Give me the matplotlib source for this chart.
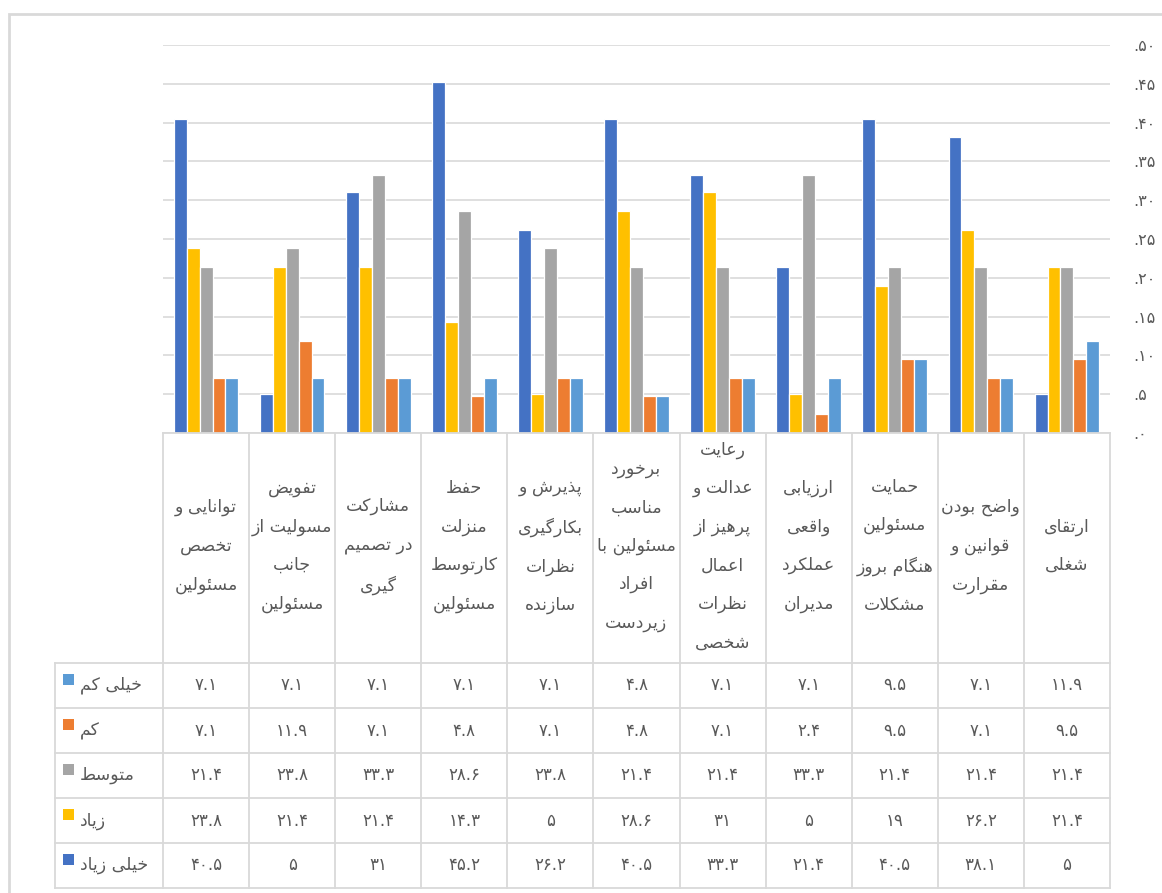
import unicodedata
import matplotlib
matplotlib.use("Agg")
import matplotlib.pyplot as plt
from matplotlib.patches import Rectangle

# ---------------- data ----------------
categories = [
    "توانایی و\nتخصص\nمسئولین",
    "تفویض\nمسولیت از\nجانب\nمسئولین",
    "مشارکت\nدر تصمیم\nگیری",
    "حفظ\nمنزلت\nکارتوسط\nمسئولین",
    "پذیرش و\nبکارگیری\nنظرات\nسازنده",
    "برخورد\nمناسب\nمسئولین با\nافراد\nزیردست",
    "رعایت\nعدالت و\nپرهیز از\nاعمال\nنظرات\nشخصی",
    "ارزیابی\nواقعی\nعملکرد\nمدیران",
    "حمایت\nمسئولین\nهنگام بروز\nمشکلات",
    "واضح بودن\nقوانین و\nمقرارت",
    "ارتقای\nشغلی",
]
series_names = ["خیلی زیاد", "زیاد", "متوسط", "کم", "خیلی کم"]
very_high = [40.5, 5, 31, 45.2, 26.2, 40.5, 33.3, 21.4, 40.5, 38.1, 5]
high = [23.8, 21.4, 21.4, 14.3, 5, 28.6, 31, 5, 19, 26.2, 21.4]
medium = [21.4, 23.8, 33.3, 28.6, 23.8, 21.4, 21.4, 33.3, 21.4, 21.4, 21.4]
low = [7.1, 11.9, 7.1, 4.8, 7.1, 4.8, 7.1, 2.4, 9.5, 7.1, 9.5]
very_low = [7.1, 7.1, 7.1, 7.1, 7.1, 4.8, 7.1, 7.1, 9.5, 7.1, 11.9]
series_values = [very_high, high, medium, low, very_low]
colors = ["#4472C4", "#FFC000", "#A5A5A5", "#ED7D31", "#5B9BD5"]
ytick_values = [0, 0.05, 0.10, 0.15, 0.20, 0.25, 0.30, 0.35, 0.40, 0.45, 0.50]
ytick_labels = [".۰", ".۵", ".۱۰", ".۱۵", ".۲۰", ".۲۵", ".۳۰", ".۳۵", ".۴۰", ".۴۵", ".۵۰"]

# ---------------- Persian shaping helpers ----------------
def _build_forms():
    forms = {}
    for cp in list(range(0xFB50, 0xFDFF)) + list(range(0xFE70, 0xFEFF)):
        ch = chr(cp)
        dec = unicodedata.decomposition(ch).split()
        if len(dec) == 2 and dec[0] in ("<isolated>", "<final>", "<initial>", "<medial>"):
            base = chr(int(dec[1], 16))
            forms.setdefault(base, {})[dec[0][1:-1]] = ch
    return forms

FORMS = _build_forms()
LAM_ALEF = {"ا": ("\uFEFB", "\uFEFC"), "آ": ("\uFEF5", "\uFEF6"),
            "أ": ("\uFEF7", "\uFEF8"), "إ": ("\uFEF9", "\uFEFA")}


def _jn(c):
    return c in FORMS and "initial" in FORMS[c] and "medial" in FORMS[c]


def _jp(c):
    return c in FORMS and "final" in FORMS[c]


def shape_line(s):
    out = []
    n = len(s)
    i = 0
    while i < n:
        c = s[i]
        cp = i > 0 and _jn(s[i - 1]) and _jp(c)
        if c == "ل" and i + 1 < n and s[i + 1] in LAM_ALEF:
            out.append(LAM_ALEF[s[i + 1]][1 if cp else 0])
            i += 2
            continue
        cn = i + 1 < n and _jn(c) and _jp(s[i + 1])
        if c in FORMS:
            f = FORMS[c]
            if cp and cn and "medial" in f:
                g = f["medial"]
            elif cp and "final" in f:
                g = f["final"]
            elif cn and "initial" in f:
                g = f["initial"]
            else:
                g = f.get("isolated", c)
        else:
            g = c
        out.append(g)
        i += 1
    return "".join(reversed(out))


def fa(s):
    return "\n".join(shape_line(line) for line in s.split("\n"))


PERSIAN_DIGITS = str.maketrans("0123456789", "۰۱۲۳۴۵۶۷۸۹")


def fa_num(v):
    s = ("%g" % v)
    return s.translate(PERSIAN_DIGITS)

# ---------------- figure ----------------
plt.rcParams["font.family"] = ["DejaVu Sans"]
W, H = 1162, 893
fig = plt.figure(figsize=(W / 100, H / 100), dpi=100)
fig.patch.set_facecolor("white")


def rect(x0, y0, x1, y1):
    return [x0 / W, 1 - y1 / H, (x1 - x0) / W, (y1 - y0) / H]

TEXT = "#595959"
GRID = "#D9D9D9"

# outer frame
fig.patches.append(Rectangle((9 / W, -0.02), 1.05, 1 - 14 / H + 0.02,
                             transform=fig.transFigure, fill=False,
                             edgecolor="#D9D9D9", linewidth=2))

ncat = len(categories)
PLOT_X0, PLOT_X1 = 163, 1110
ax = fig.add_axes(rect(PLOT_X0, 45, PLOT_X1, 433))
ax.set_xlim(0, ncat)
ax.set_ylim(0, 0.5)
for s in ax.spines.values():
    s.set_visible(False)
ax.set_xticks([])
ax.yaxis.tick_right()
ax.set_yticks(ytick_values)
ax.set_yticklabels(ytick_labels)
ax.tick_params(axis="y", length=0, pad=17, labelsize=11.5, labelcolor=TEXT)
for lab in ax.get_yticklabels():
    lab.set_horizontalalignment("left")
ax.yaxis.grid(True, color=GRID, linewidth=1.2)
ax.set_axisbelow(True)

slot = 0.15
for j, (vals, col) in enumerate(zip(series_values, colors)):
    xs = [i + 0.5 + (j - 2) * slot for i in range(ncat)]
    ax.bar(xs, [v / 100 for v in vals], width=slot, color=col,
           edgecolor="white", linewidth=0.9, zorder=3)

# ---------------- data table ----------------
col_w = (PLOT_X1 - PLOT_X0) / ncat
L = (PLOT_X0 - 55) / col_w
tax = fig.add_axes(rect(55, 433, PLOT_X1, 888))
tax.set_xlim(-L, ncat)
tax.set_ylim(455, 0)
tax.axis("off")

header_h = 230
row_h = 45
lw = 1.3
for i in range(ncat + 1):
    tax.plot([i, i], [0, 455], color=GRID, lw=lw, clip_on=False)
tax.plot([-L, -L], [header_h, 455], color=GRID, lw=lw, clip_on=False)
tax.plot([0, ncat], [0, 0], color=GRID, lw=lw, clip_on=False)
for r in range(6):
    y = header_h + r * row_h
    tax.plot([-L, ncat], [y, y], color=GRID, lw=lw, clip_on=False)

for i, cat in enumerate(categories):
    tax.text(i + 0.5, header_h / 2 - 2, fa(cat), ha="center", va="center",
             multialignment="center", fontsize=12.5, color=TEXT, linespacing=2.45)

row_order = [4, 3, 2, 1, 0]
for r, si in enumerate(row_order):
    yc = header_h + r * row_h + row_h / 2
    sq = 11 / col_w
    tax.add_patch(Rectangle((-L + 8 / col_w, yc - 12), sq, 11,
                            facecolor=colors[si], edgecolor="none", clip_on=False))
    tax.text(-L + 25 / col_w, yc, fa(series_names[si]), ha="left", va="center",
             fontsize=12.5, color=TEXT)
    for i in range(ncat):
        tax.text(i + 0.5, yc, fa_num(series_values[si][i]), ha="center",
                 va="center", fontsize=12, color=TEXT)

fig.savefig("out.png", dpi=100, facecolor="white")
